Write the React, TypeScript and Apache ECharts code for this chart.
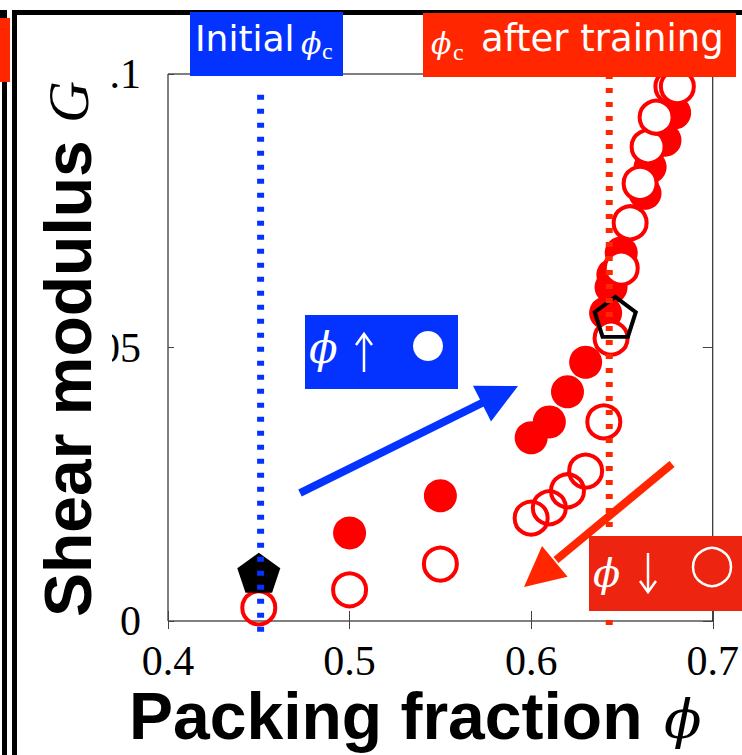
import React, { useEffect, useRef } from "react";
import * as echarts from "echarts";

// ---- data ----
const xRange = [0.4, 0.7];
const yRange = [0, 0.1];
const xTickStep = 0.1;
const yTickStep = 0.05;

// compression (phi increasing) - filled circles
const compressPhi = [0.5, 0.55, 0.6, 0.61, 0.62, 0.63, 0.641, 0.644, 0.645, 0.6496, 0.6627, 0.6655, 0.6737, 0.679];
const compressG = [0.0161, 0.0229, 0.0335, 0.0364, 0.0419, 0.0473, 0.0563, 0.061, 0.0633, 0.0673, 0.0782, 0.083, 0.0879, 0.0929];

// decompression (phi decreasing) - open circles
const decompressPhi = [0.45, 0.5, 0.55, 0.6, 0.61, 0.62, 0.63, 0.64, 0.644, 0.6496, 0.6545, 0.66, 0.6644, 0.6688, 0.6775, 0.6805];
const decompressG = [0.0024, 0.0057, 0.0104, 0.0188, 0.0207, 0.0238, 0.0274, 0.0364, 0.0517, 0.0645, 0.0728, 0.08, 0.0867, 0.0921, 0.0977, 0.0977];

// pentagons
const initialState = [0.45, 0.0088];
const trainedState = [0.6463, 0.0556];

// jamming points (vertical dotted lines)
const phiCInitial = 0.451;
const phiCTrained = 0.643;
const initialLineG = [0.0962, -0.0022];
const trainedLineG = [0.1, -0.0013];

const BLUE = "#0433ff";
const RED = "#ff2600";
const RED2 = "#ec2410";
const MARK = "#ff0000";
const PENTA = "path://M50,0 L97.55,34.55 L79.39,90.45 L20.61,90.45 L2.45,34.55 Z";

export default function App() {
  const ref = useRef<HTMLDivElement>(null);
  useEffect(() => {
    if (!ref.current) return;
    const chart = echarts.init(ref.current, undefined, { renderer: "svg" });
    const axisLabelFont = { fontFamily: "Liberation Serif", fontSize: 42, color: "#000", lineHeight: 36 };
    const txt = (x: number, y: number, text: string, s: any, extra: any = {}) => ({
      type: "text",
      x,
      y,
      z: 110,
      ...extra,
      style: { text, fill: "#fff", align: "left", verticalAlign: "middle", ...s },
    });
    const option: any = {
      animation: false,
      grid: { left: 168, right: 27, top: 74, bottom: 134, show: true, borderColor: "#000", borderWidth: 1 },
      xAxis: [
        {
          type: "value", min: xRange[0], max: xRange[1], interval: xTickStep, position: "bottom",
          axisLine: { show: false }, splitLine: { show: false },
          axisTick: { inside: true, length: 10, lineStyle: { color: "#444" } },
          axisLabel: { ...axisLabelFont, margin: 22, formatter: (v: number) => v.toFixed(1) },
        },
        {
          type: "value", min: xRange[0], max: xRange[1], interval: xTickStep, position: "top",
          axisLine: { show: false }, splitLine: { show: false },
          axisTick: { inside: true, length: 8, lineStyle: { color: "#444" } },
          axisLabel: { show: false },
        },
      ],
      yAxis: [
        {
          type: "value", min: yRange[0], max: yRange[1], interval: yTickStep, position: "left",
          axisLine: { show: false }, splitLine: { show: false },
          axisTick: { inside: true, length: 6, lineStyle: { color: "#444" } },
          axisLabel: { ...axisLabelFont, margin: 27, formatter: (v: number) => (v === 0 ? "0" : String(+v.toFixed(2))) },
        },
        {
          type: "value", min: yRange[0], max: yRange[1], interval: yTickStep, position: "right",
          axisLine: { show: false }, splitLine: { show: false },
          axisTick: { inside: true, length: 10, lineStyle: { color: "#444" } },
          axisLabel: { show: false },
        },
      ],
      series: [
        {
          type: "scatter", z: 2, symbol: "circle", symbolSize: 33,
          itemStyle: { color: MARK, opacity: 1 },
          data: compressPhi.map((p, i) => [p, compressG[i]]),
        },
        {
          type: "scatter", z: 3, symbol: "circle", symbolSize: 33,
          itemStyle: {
            color: (p: any) => (p.value[1] > 0.045 ? "#ffffff" : "rgba(255,255,255,0)"),
            borderColor: MARK, borderWidth: 4, opacity: 1,
          },
          data: decompressPhi.map((p, i) => [p, decompressG[i]]),
        },
        {
          type: "scatter", z: 4, symbol: PENTA, symbolSize: [43, 40],
          itemStyle: { color: "#000", opacity: 1 },
          data: [initialState],
        },
        {
          type: "scatter", z: 4, symbol: PENTA, symbolSize: [41, 40],
          itemStyle: { color: "rgba(0,0,0,0)", borderColor: "#000", borderWidth: 4, opacity: 1 },
          data: [trainedState],
        },
        {
          type: "line", z: 5, clip: false, symbol: "none", silent: true,
          lineStyle: { color: BLUE, width: 7, type: [5, 9], cap: "butt", opacity: 1 },
          data: initialLineG.map((g) => [phiCInitial, g]),
        },
        {
          type: "line", z: 5, clip: false, symbol: "none", silent: true,
          lineStyle: { color: RED, width: 7, type: [5, 9], cap: "butt", opacity: 1 },
          data: trainedLineG.map((g) => [phiCTrained, g]),
        },
      ],
      graphic: [
        // outer frame
        { type: "rect", z: 100, shape: { x: 2, y: 10, width: 5, height: 745 }, style: { fill: "#000" } },
        { type: "rect", z: 100, shape: { x: 0, y: 10, width: 7, height: 8 }, style: { fill: "#000" } },
        { type: "rect", z: 100, shape: { x: 12, y: 10, width: 5, height: 745 }, style: { fill: "#000" } },
        { type: "rect", z: 100, shape: { x: 12, y: 10, width: 730, height: 5 }, style: { fill: "#000" } },
        { type: "rect", z: 101, shape: { x: 0, y: 18, width: 10, height: 64 }, style: { fill: RED } },
        // white cover behind y-axis title
        { type: "rect", z: 100, shape: { x: 20, y: 40, width: 92, height: 600 }, style: { fill: "#fff" } },
        // y title
        txt(68, 617, "Shear modulus", { fill: "#000", fontFamily: "Liberation Sans", fontWeight: "bold", fontSize: 66, lineHeight: 50 }, { rotation: Math.PI / 2 }),
        txt(68, 123, "G", { fill: "#000", fontFamily: "Liberation Serif", fontStyle: "italic", fontSize: 58, lineHeight: 44 }, { rotation: Math.PI / 2 }),
        // x title
        txt(129, 716, "Packing fraction", { fill: "#000", fontFamily: "Liberation Sans", fontWeight: "bold", fontSize: 66, lineHeight: 50 }),
        txt(664, 719, "ϕ", { fill: "#000", fontFamily: "DejaVu Serif", fontStyle: "italic", fontSize: 55, lineHeight: 50 }),
        // Initial phi_c box
        { type: "rect", z: 105, shape: { x: 190, y: 12, width: 153, height: 64 }, style: { fill: BLUE } },
        txt(195, 38, "Initial", { fontFamily: "DejaVu Sans", fontSize: 36 }),
        txt(301, 43, "ϕ", { fontFamily: "DejaVu Serif", fontStyle: "italic", fontSize: 30 }),
        txt(322, 51, "c", { fontFamily: "Liberation Serif", fontSize: 24 }),
        // phi_c after training box
        { type: "rect", z: 105, shape: { x: 423, y: 13, width: 313, height: 64 }, style: { fill: RED } },
        txt(431, 43, "ϕ", { fontFamily: "DejaVu Serif", fontStyle: "italic", fontSize: 30 }),
        txt(453, 52, "c", { fontFamily: "Liberation Serif", fontSize: 24 }),
        txt(481, 38, "after training", { fontFamily: "DejaVu Sans", fontSize: 37 }),
        // phi up box
        { type: "rect", z: 105, shape: { x: 305, y: 315, width: 153, height: 74 }, style: { fill: BLUE } },
        txt(309, 348, "ϕ", { fontFamily: "DejaVu Serif", fontStyle: "italic", fontSize: 42 }),
        { type: "line", z: 110, shape: { x1: 364, y1: 372, x2: 364, y2: 335 }, style: { stroke: "#fff", lineWidth: 2.5 } },
        { type: "polyline", z: 110, shape: { points: [[356, 345], [364, 334], [372, 345]] }, style: { stroke: "#fff", lineWidth: 2.5, fill: "none" } },
        { type: "circle", z: 110, shape: { cx: 428, cy: 346, r: 15 }, style: { fill: "#fff" } },
        // phi down box
        { type: "rect", z: 105, shape: { x: 589, y: 536, width: 153, height: 75 }, style: { fill: RED2 } },
        txt(593, 573, "ϕ", { fontFamily: "DejaVu Serif", fontStyle: "italic", fontSize: 40 }),
        { type: "line", z: 110, shape: { x1: 648, y1: 553, x2: 648, y2: 591 }, style: { stroke: "#fff", lineWidth: 2.5 } },
        { type: "polyline", z: 110, shape: { points: [[640, 581], [648, 592], [656, 581]] }, style: { stroke: "#fff", lineWidth: 2.5, fill: "none" } },
        { type: "circle", z: 110, shape: { cx: 712, cy: 567, r: 19 }, style: { fill: "none", stroke: "#fff", lineWidth: 2.5 } },
        // arrows
        { type: "line", z: 100, shape: { x1: 300, y1: 493, x2: 484, y2: 402 }, style: { stroke: BLUE, lineWidth: 8 } },
        { type: "polygon", z: 100, shape: { points: [[518, 386], [491, 421.5], [473, 385.7]] }, style: { fill: BLUE } },
        { type: "line", z: 100, shape: { x1: 672, y1: 464, x2: 556, y2: 560 }, style: { stroke: RED, lineWidth: 8 } },
        { type: "polygon", z: 100, shape: { points: [[524, 587], [567.6, 576.8], [542, 546]] }, style: { fill: RED } },
      ],
    };
    chart.setOption(option);
    return () => chart.dispose();
  }, []);
  return <div ref={ref} style={{ position: "absolute", left: 0, top: 0, width: 742, height: 755, background: "#fff" }} />;
}
